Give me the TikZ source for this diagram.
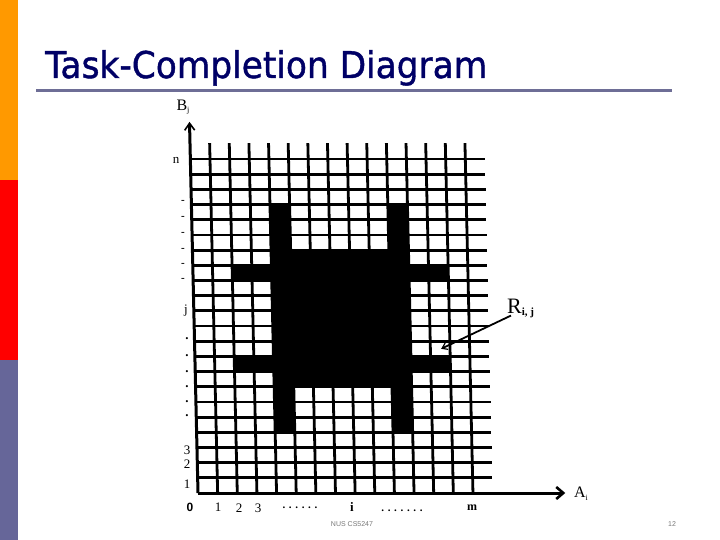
\documentclass[tikz,border=0pt]{standalone}
\usepackage{fontspec}
\usepackage{graphicx}
\setmainfont{Liberation Serif}
\setsansfont{Liberation Sans}
\newfontfamily\titlefont[FakeBold=1.2]{DejaVu Sans}
\usetikzlibrary{arrows.meta}
\definecolor{barorange}{HTML}{FF9900}
\definecolor{barred}{HTML}{FF0000}
\definecolor{barslate}{HTML}{666699}
\definecolor{titleblue}{HTML}{000066}
\definecolor{rulegray}{RGB}{110,110,150}
\definecolor{footgray}{RGB}{120,120,120}
\tikzset{
  gridline/.style={line width=2.8pt, black},
  axisline/.style={line width=3pt, black},
  lbl/.style={inner sep=0pt, text=black},
  foot/.style={inner sep=0pt, text=footgray, font=\sffamily\fontsize{7pt}{7pt}\selectfont}
}
\begin{document}
\begin{tikzpicture}[x=1pt,y=-1pt]
\useasboundingbox (0,0) rectangle (720,540);
\fill[white] (0,0) rectangle (720,540);
% left bar
\fill[barorange] (0,0) rectangle (18,180);
\fill[barred] (0,180) rectangle (18,360);
\fill[barslate] (0,360) rectangle (18,540);
% title
\node[anchor=base west, inner sep=0pt, text=titleblue] (title) at (45,78)
  {\resizebox{442pt}{28pt}{\titlefont Task-Completion Diagram}};
\draw[rulegray, line width=3pt] (36,91) -- (672,91);

% grid
\begin{scope}[shift={(198,493)}, xslant=-0.0229, x=19.64pt, y=15.18pt]
  % black task region
  \fill[black] (4,7) rectangle (11,16);
  \fill[black] (4,16) rectangle (5,19);
  \fill[black] (10,16) rectangle (11,19);
  \fill[black] (4,4) rectangle (5,7);
  \fill[black] (10,4) rectangle (11,7);
  \fill[black] (2,14) rectangle (4,15);
  \fill[black] (11,14) rectangle (13,15);
  \fill[black] (2,8) rectangle (4,9);
  \fill[black] (11,8) rectangle (13,9);
  \foreach \r in {1,...,22} \draw[gridline] (0,\r) -- (15,\r);
  \foreach \c in {1,...,14} \draw[gridline] (\c,0) -- (\c,23.05);
  \coordinate (O) at (0,0);
  \coordinate (ytip) at (0,24.45);
  \coordinate (xtip) at (18.7,0);
  \coordinate (rtip) at (12.55,9.5);
  \draw[axisline, -{Straight Barb[length=7pt,width=10pt,line width=1.6pt]}] (O) -- (ytip);
  \draw[axisline, -{Straight Barb[length=7pt,width=12pt,line width=2.6pt]}] (O) -- (xtip);
\end{scope}

% axis labels
\node[lbl, font=\fontsize{16pt}{16pt}\selectfont] (bj) at (183,107) {B\raisebox{-2pt}{\fontsize{8pt}{8pt}\selectfont j}};
\node[lbl, font=\fontsize{16pt}{16pt}\selectfont] (ai) at (581,494) {A\raisebox{-3pt}{\fontsize{8pt}{8pt}\selectfont i}};
\node[lbl, anchor=base west, font=\fontsize{22pt}{22pt}\selectfont] (rij) at (507,313) {R\raisebox{-2pt}{\fontsize{11pt}{11pt}\selectfont\bfseries i, j}};
\draw[line width=1.8pt, -{Straight Barb[length=5pt,width=7pt,line width=1.2pt]}] (rij.south west) ++(4,-2) coordinate (rtail) (rtail) -- (rtip);

% y labels
\node[lbl, font=\fontsize{13pt}{13pt}\selectfont] (yn) at (176,160) {n};
\node[lbl, font=\fontsize{13pt}{13pt}\selectfont] (yj) at (186,311) {j};
\node[lbl, font=\fontsize{13pt}{13pt}\selectfont] (y3) at (187,450) {3};
\node[lbl, font=\fontsize{13pt}{13pt}\selectfont] (y2) at (187,464) {2};
\node[lbl, font=\fontsize{13pt}{13pt}\selectfont] (y1) at (187,484) {1};
\foreach \yy [count=\k] in {202,218,234,250,265,280}
  \node[lbl, font=\bfseries\fontsize{11pt}{11pt}\selectfont] (da\k) at (183,\yy) {-};
\foreach \yy [count=\k] in {342,359,375,390,405,419}
  \node[lbl, font=\bfseries\fontsize{13pt}{13pt}\selectfont] (db\k) at (187,\yy-3) {.};

% x labels
\node[lbl, font=\sffamily\bfseries\fontsize{12pt}{12pt}\selectfont] (x0) at (190,507) {0};
\node[lbl, font=\fontsize{13pt}{13pt}\selectfont] (x1) at (218,507) {1};
\node[lbl, font=\fontsize{13pt}{13pt}\selectfont] (x2) at (239,508) {2};
\node[lbl, font=\fontsize{13pt}{13pt}\selectfont] (x3) at (258,508) {3};
\node[lbl, font=\bfseries\fontsize{11pt}{11pt}\selectfont] (xd1) at (300,508) {.\,\,.\,\,.\,\,.\,\,.\,\,.};
\node[lbl, font=\bfseries\fontsize{13pt}{13pt}\selectfont] (xi) at (352,507) {i};
\node[lbl, font=\bfseries\fontsize{11pt}{11pt}\selectfont] (xd2) at (402,511) {.\,\,.\,\,.\,\,.\,\,.\,\,.\,\,.};
\node[lbl, font=\bfseries\fontsize{12pt}{12pt}\selectfont] (xm) at (472,508) {m};

% footer
\node[foot] (course) at (352,524) {NUS CS5247};
\node[foot] (page) at (672,524) {12};
\end{tikzpicture}
\end{document}
